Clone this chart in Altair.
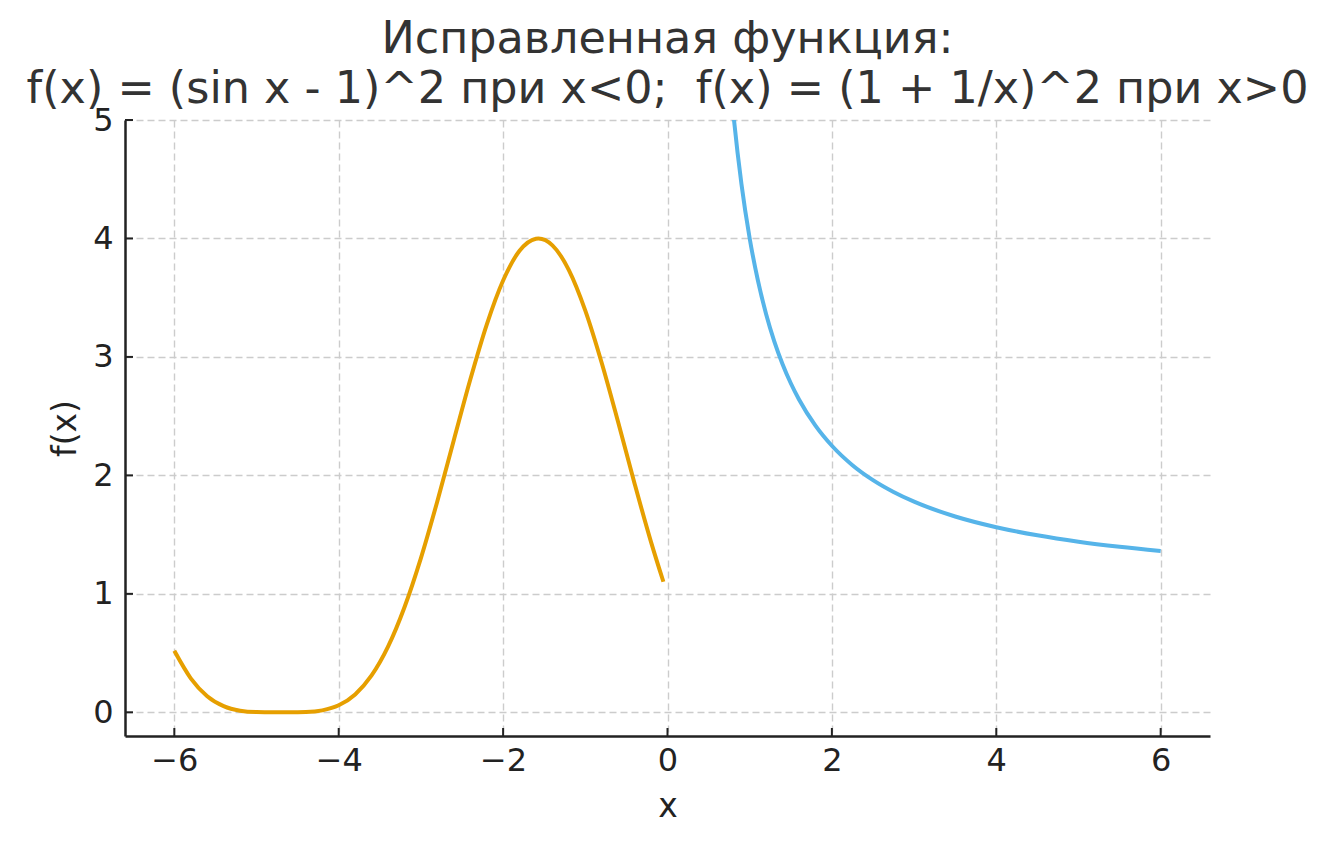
import altair as alt
import pandas as pd

# Orange branch: (sin x - 1)^2 for x<0
x_neg = [-6.0, -5.8, -5.6, -5.4, -5.2, -5.0, -4.8, -4.7, -4.6, -4.4, -4.2, -4.0,
         -3.8, -3.6, -3.4, -3.2, -3.0, -2.8, -2.6, -2.4, -2.2, -2.0, -1.8, -1.6,
         -1.57, -1.4, -1.2, -1.0, -0.8, -0.6, -0.4, -0.2, -0.05]
y_neg = [0.519, 0.287, 0.136, 0.052, 0.0136, 0.0017, 0.00001, 0.0, 0.00004, 0.0023,
         0.0165, 0.059, 0.151, 0.311, 0.554, 0.887, 1.302, 1.782, 2.297, 2.807,
         3.271, 3.645, 3.896, 3.998, 4.0, 3.942, 3.733, 3.391, 2.949, 2.448,
         1.930, 1.437, 1.102]

# Blue branch: (1 + 1/x)^2 for x>0 (clipped at the top of the axes)
x_pos = [0.7, 0.75, 0.8, 0.9, 1.0, 1.1, 1.2, 1.3, 1.4, 1.5, 1.6, 1.8, 2.0, 2.25,
         2.5, 2.75, 3.0, 3.5, 4.0, 4.5, 5.0, 5.5, 6.0]
y_pos = [5.898, 5.444, 5.063, 4.457, 4.0, 3.645, 3.361, 3.130, 2.939, 2.778,
         2.641, 2.420, 2.25, 2.086, 1.96, 1.860, 1.778, 1.653, 1.5625, 1.494,
         1.44, 1.397, 1.361]

x_ticks = [-6, -4, -2, 0, 2, 4, 6]
y_ticks = [0, 1, 2, 3, 4, 5]

title_lines = ["Исправленная функция:",
               "f(x) = (sin x - 1)^2 при x<0;\u00a0 f(x) = (1 + 1/x)^2 при x>0"]

FONT = "DejaVu Sans"
W, H = 1085, 616

df_neg = pd.DataFrame({"x": x_neg, "y": y_neg})
df_pos = pd.DataFrame({"x": x_pos, "y": y_pos})
df_xt = pd.DataFrame({"x": x_ticks})
df_yt = pd.DataFrame({"y": y_ticks})

xscale = alt.Scale(domain=[-6.6, 6.6], nice=False, zero=False)
yscale = alt.Scale(domain=[-0.2, 5], nice=False, zero=False)

xaxis = alt.Axis(values=x_ticks, title="x", format="d", grid=True,
                 ticks=False, tickSize=0, labelPadding=9, titlePadding=14,
                 labelFontSize=32, titleFontSize=33, labelFont=FONT, titleFont=FONT,
                 labelColor="#222222", titleColor="#222222", titleFontWeight="normal",
                 domainColor="#222222", domainWidth=2.5,
                 gridColor="#cccccc", gridDash=[7, 4], gridWidth=1.4)
yaxis = alt.Axis(values=y_ticks, title="f(x)", format="d", grid=True,
                 ticks=False, tickSize=0, labelPadding=12, titlePadding=10,
                 labelFontSize=32, titleFontSize=33, labelFont=FONT, titleFont=FONT,
                 labelColor="#222222", titleColor="#222222", titleFontWeight="normal",
                 domainColor="#222222", domainWidth=2.5,
                 gridColor="#cccccc", gridDash=[7, 4], gridWidth=1.4)

line_neg = alt.Chart(df_neg).mark_line(color="#E69F00", strokeWidth=4,
                                       interpolate="monotone", clip=True).encode(
    x=alt.X("x:Q", scale=xscale, axis=xaxis),
    y=alt.Y("y:Q", scale=yscale, axis=yaxis),
)
line_pos = alt.Chart(df_pos).mark_line(color="#56B4E9", strokeWidth=4,
                                       interpolate="monotone", clip=True).encode(
    x=alt.X("x:Q", scale=xscale),
    y=alt.Y("y:Q", scale=yscale),
)
xt = alt.Chart(df_xt).mark_rule(color="#222222", strokeWidth=2).encode(
    x=alt.X("x:Q", scale=xscale),
    y=alt.value(H), y2=alt.value(H - 8),
)
yt = alt.Chart(df_yt).mark_rule(color="#222222", strokeWidth=2).encode(
    y=alt.Y("y:Q", scale=yscale),
    x=alt.value(0), x2=alt.value(8),
)

chart = alt.layer(line_neg, line_pos, xt, yt).properties(
    width=W, height=H,
    autosize=alt.AutoSizeParams(type="none"),
    padding={"left": 117, "top": 112, "right": 110, "bottom": 90},
    title=alt.TitleParams(text=title_lines, font=FONT, fontSize=44.5,
                          fontWeight="normal", color="#333333", anchor="middle",
                          lineHeight=50, offset=-8),
).configure_view(stroke=None)

chart.save("out.html", embed_options={"renderer": "svg", "actions": False})
